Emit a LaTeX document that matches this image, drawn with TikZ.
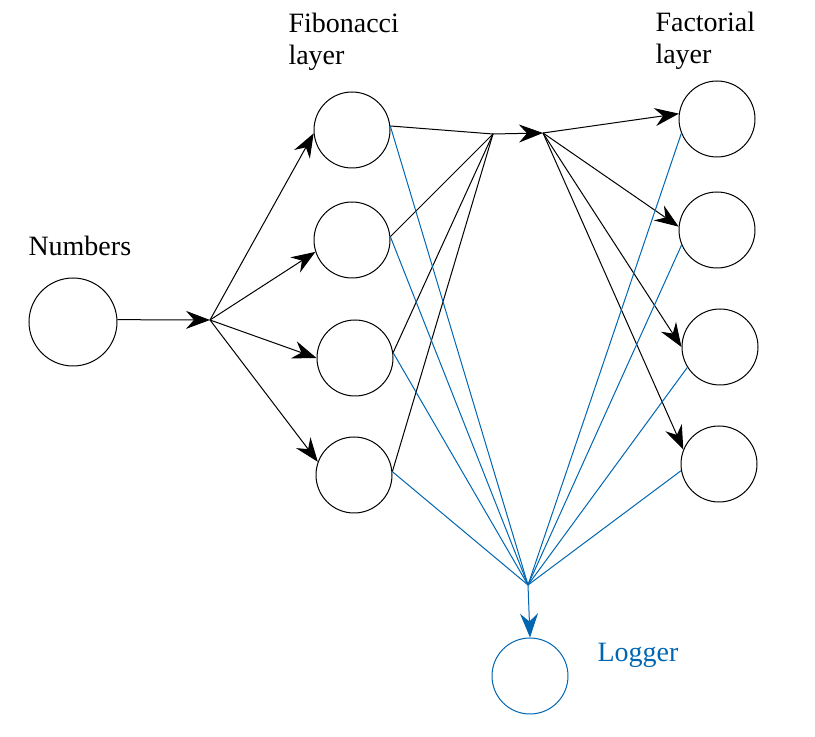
\documentclass[tikz,border=0pt]{standalone}
\usepackage{fontspec}
\setmainfont{Liberation Serif}
\newfontfamily\layerfont{Liberation Serif}
\usetikzlibrary{arrows.meta}
\definecolor{logblue}{RGB}{0,102,178}

\begin{document}
\begin{tikzpicture}[x=0.5pt,y=-0.5pt,line width=0.5pt,
                    flow/.style={-{Stealth[length=12pt,width=9pt,inset=4pt]}},
                    font=\layerfont\fontsize{14}{16}\selectfont]

  \tikzstyle{unit}=[circle,draw,inner sep=0pt,minimum size=38pt]
  \tikzstyle{title}=[align=left,inner sep=0pt]

  \useasboundingbox (0,0) rectangle (815,737);

  \node[unit,minimum size=44pt] (N) at (73,322) {};
  \node[unit] (F1) at (352,130) {};
  \node[unit] (F2) at (352,240) {};
  \node[unit] (F3) at (355,358) {};
  \node[unit] (F4) at (354,475) {};
  \node[unit] (P1) at (717,119) {};
  \node[unit] (P2) at (717,230) {};
  \node[unit] (P3) at (720,347) {};
  \node[unit] (P4) at (719,464) {};
  \node[unit,draw=logblue] (L) at (530,676) {};

  \node[title,anchor=base west] (tN) at (28,256) {Numbers};
  \node[title,anchor=north west] (tF) at (288,13) {Fibonacci\\layer};
  \node[title,anchor=north west] (tP) at (655,12) {Factorial\\layer};
  \node[title,anchor=base west,text=logblue] (tL) at (597,662) {Logger};

  \coordinate (J1) at (210,320);
  \coordinate (J2) at (493,134);
  \coordinate (J3) at (543,133);
  \coordinate (J4) at (528,585);

  % numbers to fibonacci layer
  \draw[flow] (N.3) -- (J1);
  \draw[flow] (J1) -- (F1.185);
  \draw[flow] (J1) -- (F2.198);
  \draw[flow] (J1) -- (F3.west);
  \draw[flow] (J1) -- (F4.160);

  % fibonacci layer to factorial layer
  \foreach \f/\a in {F1/6,F2/5,F3/8,F4/5}
    \draw (\f.\a) -- (J2);
  \draw[flow] (J2) -- (J3);
  \foreach \p/\a in {P1/172,P2/175,P3/180,P4/158}
    \draw[flow] (J3) -- (\p.\a);

  % everything to the logger
  \foreach \f/\a in {F1/6,F2/5,F3/8,F4/5}
    \draw[logblue] (\f.\a) -- (J4);
  \foreach \p/\a in {P1/202,P2/203,P3/212,P4/190}
    \draw[logblue] (\p.\a) -- (J4);
  \draw[flow,logblue] (J4) -- (L.north);
\end{tikzpicture}
\end{document}
